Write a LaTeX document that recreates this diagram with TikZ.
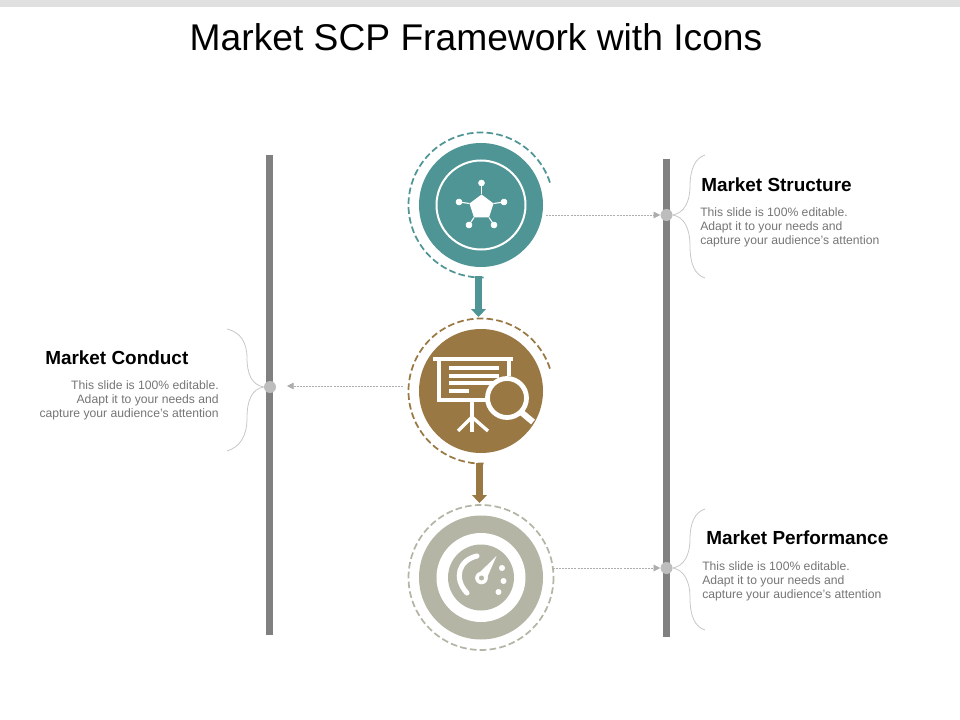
\documentclass[tikz,border=0pt]{standalone}
\usepackage{fontspec}
\setmainfont{Liberation Sans}
\usetikzlibrary{arrows.meta}
\usetikzlibrary{positioning}
\definecolor{tealc}{HTML}{4F9595}
\definecolor{brownc}{HTML}{997843}
\definecolor{khakic}{HTML}{B5B5A6}
\definecolor{barc}{HTML}{808080}
\definecolor{dotc}{HTML}{BDBDBD}
\definecolor{bodyc}{HTML}{757575}
\begin{document}
\begin{tikzpicture}[x=0.75pt,y=0.75pt,yscale=-1,xscale=1]
  \useasboundingbox (0,0) rectangle (960,720);
  \tikzstyle{disc} = [circle,minimum size=93pt,inner sep=0pt]
  \tikzstyle{knob} = [circle,fill=dotc,minimum size=9pt,inner sep=0pt]
  \tikzstyle{ring} = [line width=1.3pt,dash pattern=on 5pt off 2.4pt]
  \tikzstyle{pole} = [barc,line width=5.2pt]
  \tikzstyle{flow} = [line width=5.6pt,-{Triangle[width=11pt,length=6pt]}]
  \tikzstyle{thin} = [black!32,line width=0.5pt,dash pattern=on 1.5pt off 0.8pt,-{Triangle[width=5pt,length=5pt]}]
  \tikzstyle{bracket} = [dotc!85!white,line width=0.6pt]
  \tikzstyle{head} = [inner sep=0pt,font=\fontsize{14.2}{16}\selectfont\bfseries,text=black]
  \tikzstyle{body} = [inner sep=0pt,font=\fontsize{9.13}{10.5}\selectfont,text=bodyc]
  \tikzstyle{icon} = [white,line width=2.5pt]
  %Draw the band on top and the title
  \fill [black!12] (0,0) rectangle (960,7);
  \node [inner sep=0pt,font=\fontsize{27.9}{32}\selectfont] (title) at (476,37) {Market SCP Framework with Icons};
  %Draw the poles
  \draw [pole] (269.5,155) -- (269.5,635);
  \draw [pole] (666.5,159) -- (666.5,637);
  %Draw the discs
  \node [disc,fill=tealc] (topdisc) at (481,205) {};
  \node [disc,fill=brownc] (middisc) at (481,391) {};
  \node [disc,fill=khakic] (lowdisc) at (481,577.5) {};
  %Draw the dashed rings
  \draw [ring,tealc] ([shift={(-18:72.5)}]topdisc.center) arc (-18:-272:72.5);
  \draw [ring,brownc] ([shift={(-18:72.5)}]middisc.center) arc (-18:-272:72.5);
  \draw [ring,khakic] (lowdisc) circle (72.5);
  %Draw the knobs on the poles
  \node [knob] (topknob) at (666.5,215) {};
  \node [knob] (midknob) at (270,387) {};
  \node [knob] (lowknob) at (666.5,568) {};
  %Draw the arrows
  \coordinate (topout) at (546,215);
  \coordinate (midout) at (403,386);
  \coordinate (lowout) at (553,568);
  \coordinate (midend) at (287,386);
  \draw [thin] (topout) -- (topknob);
  \draw [thin] (midout) -- (midend);
  \draw [thin] (lowout) -- (lowknob);
  \coordinate (topfoot) at (478.5,276);
  \coordinate (midtip) at (478.5,317);
  \coordinate (midfoot) at (479.5,463);
  \coordinate (lowtip) at (479.5,503);
  \draw [flow,tealc] (topfoot) -- (midtip);
  \draw [flow,brownc] (midfoot) -- (lowtip);
  %Draw the brackets
  \draw [bracket] (topknob.east) .. controls (684,213) and (690,202) .. (690,186) .. controls (690,170) and (695,158) .. (705,155);
  \draw [bracket] (topknob.east) .. controls (684,217) and (690,228) .. (690,246) .. controls (690,264) and (695,275) .. (705,278);
  \draw [bracket] (lowknob.east) .. controls (684,566) and (690,555) .. (690,539) .. controls (690,523) and (695,512) .. (705,509);
  \draw [bracket] (lowknob.east) .. controls (684,570) and (690,581) .. (690,598) .. controls (690,616) and (695,627) .. (705,630);
  \draw [bracket] (midknob.west) .. controls (252,385) and (247,374) .. (247,358) .. controls (247,342) and (240,332) .. (227,329);
  \draw [bracket] (midknob.west) .. controls (252,389) and (247,400) .. (247,418) .. controls (247,436) and (240,447) .. (227,451);
  %Draw the pentagon icon
  \draw [white,line width=1.5pt] (topdisc) circle (44.5);
  \fill [white] (481.5,194.5) -- (493.5,203.5) -- (489,217.5) -- (474,217.5) -- (469.5,203.5) -- cycle;
  \draw [white,line width=0.8pt] (481.5,194.5) -- (481.5,183);
  \draw [white,line width=0.8pt] (493.5,203.5) -- (504,202);
  \draw [white,line width=0.8pt] (489,217.5) -- (494,225);
  \draw [white,line width=0.8pt] (474,217.5) -- (469,225);
  \draw [white,line width=0.8pt] (469.5,203.5) -- (459,202);
  \filldraw [white] (481.5,183) circle (3);
  \filldraw [white] (504,202) circle (3);
  \filldraw [white] (494,225) circle (3);
  \filldraw [white] (469,225) circle (3);
  \filldraw [white] (459,202) circle (3);
  %Draw the board icon
  \draw [icon] (433,359) -- (513,359);
  \draw [icon] (439,359) -- (439,400) -- (486,400);
  \draw [icon] (509,359) -- (509,376);
  \draw [icon] (449,368) -- (499,368);
  \draw [icon] (449,376) -- (499,376);
  \draw [icon] (449,383) -- (497,383);
  \draw [icon] (449,391) -- (469,391);
  \draw [icon] (472,400) -- (472,432);
  \draw [icon] (458,431) -- (472,417) -- (488,431);
  \draw [white,line width=3.6pt,fill=brownc] (507,398) circle (19.5);
  \draw [white,line width=4.6pt] (521,412) -- (533,422);
  %Draw the gauge icon
  \fill [white] (lowdisc) circle (44.5);
  \fill [khakic] (lowdisc) circle (33);
  \draw [white,line width=3.8pt,line cap=round] (467,593) .. controls (453,578) and (459,560) .. (477,556);
  \fill [white] (496.5,556) -- (486,580) -- (477,575) -- cycle;
  \filldraw [white] (481.5,578) circle (6);
  \filldraw [khakic] (481.5,578) circle (2.2);
  \filldraw [white] (502,568) circle (2.7);
  \filldraw [white] (503.5,581) circle (2.7);
  \filldraw [white] (498.5,592) circle (2.7);
  % Label the poles
  \node [head,anchor=west] (structhead) at (701,185) {Market Structure};
  \node [body,anchor=north west,align=left] (structbody) at (700,207.5) {This slide is 100\% editable.\\Adapt it to your needs and\\capture your audience's attention};
  \node [head,anchor=west] (conducthead) at (45,358) {Market Conduct};
  \node [body,anchor=north east,align=right] (conductbody) at (219,380.5) {This slide is 100\% editable.\\Adapt it to your needs and\\capture your audience's attention};
  \node [head,anchor=west] (perfhead) at (706,538) {Market Performance};
  \node [body,anchor=north west,align=left] (perfbody) at (702,561.5) {This slide is 100\% editable.\\Adapt it to your needs and\\capture your audience's attention};
\end{tikzpicture}
\end{document}
